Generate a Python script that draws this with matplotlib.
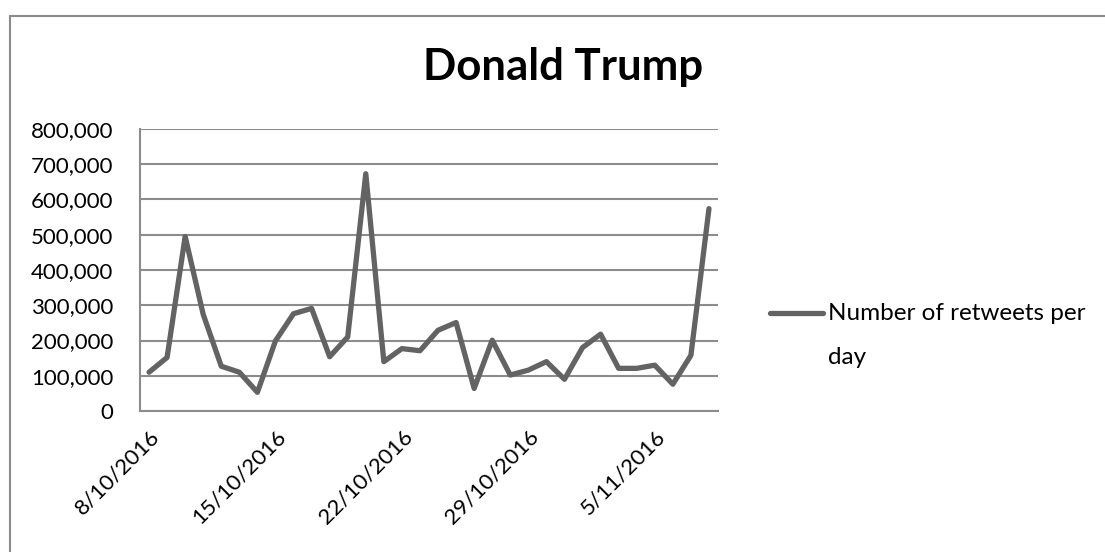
import matplotlib
matplotlib.use("Agg")
import matplotlib.pyplot as plt
from matplotlib.lines import Line2D
from matplotlib.patches import Rectangle
from matplotlib.ticker import FuncFormatter
from matplotlib.transforms import ScaledTranslation
import pandas as pd

# Daily retweet counts, 8 Oct 2016 - 8 Nov 2016
start_date = "2016-10-08"
retweets = [110000, 152000, 495000, 274000, 127000, 110000, 53000, 199000,
            276000, 291000, 154000, 210000, 673000, 140000, 177000, 171000,
            229000, 251000, 64000, 201000, 102000, 116000, 140000, 90000,
            180000, 218000, 121000, 121000, 130000, 76000, 158000, 574000]
series_name = "Number of retweets per day"
title = "Donald Trump"

dates = pd.date_range(start_date, periods=len(retweets), freq="D")

W, H = 1105, 552
fig = plt.figure(figsize=(W / 100, H / 100), dpi=100)
fig.patch.set_facecolor("white")

# outer chart frame
fig.add_artist(Rectangle((10 / W, -0.1), 1.2, (H - 16) / H + 0.1,
                         transform=fig.transFigure, fill=False,
                         edgecolor="#8c8c8c", linewidth=1.5))

ax = fig.add_axes([140 / W, (H - 411) / H, (718 - 140) / W, (411 - 129) / H])
line_color = "#636363"
grid_color = "#8c8c8c"
font = "Lato"

ax.plot(dates, retweets, color=line_color, linewidth=3.8,
        solid_joinstyle="round", solid_capstyle="round", zorder=3)

ax.set_ylim(0, 800000)
ax.set_yticks(range(0, 800001, 100000))
ax.yaxis.set_major_formatter(FuncFormatter(lambda v, p: f"{int(v):,}"))
half = pd.Timedelta(hours=12)
ax.set_xlim(dates[0] - half, dates[-1] + half)
ax.set_xticks(dates[::7])
ax.set_xticklabels([f"{d.day}/{d.month}/{d.year}" for d in dates[::7]])

ax.grid(axis="y", color=grid_color, linewidth=1.5, zorder=0)
for side in ("top", "right"):
    ax.spines[side].set_visible(False)
for side in ("left", "bottom"):
    ax.spines[side].set_color(grid_color)
    ax.spines[side].set_linewidth(1.5)
ax.tick_params(length=0, labelsize=16, labelcolor="black")
ax.tick_params(axis="y", pad=19)
for lab in ax.get_yticklabels():
    lab.set_fontfamily(font)
shift = ScaledTranslation(-6 / 100, -2 / 100, fig.dpi_scale_trans)
for lab in ax.get_xticklabels():
    lab.set_fontfamily(font)
    lab.set_rotation(45)
    lab.set_ha("right")
    lab.set_va("top")
    lab.set_rotation_mode("anchor")
    lab.set_transform(lab.get_transform() + shift)
ax.tick_params(axis="x", pad=11)

fig.text(563 / W, 1 - 67 / H, title, ha="center", va="center",
         fontsize=31.5, fontweight="bold", family=font)

# legend
fig.add_artist(Line2D([770 / W, 823 / W], [1 - 313 / H, 1 - 313 / H],
                      transform=fig.transFigure, color=line_color,
                      linewidth=3.8, solid_capstyle="round"))
fig.text(828 / W, 1 - 313 / H, "Number of retweets per", ha="left",
         va="center", fontsize=17.5, family=font)
fig.text(828 / W, 1 - 357 / H, "day", ha="left", va="center",
         fontsize=17.5, family=font)

fig.savefig("out.png", dpi=100)
